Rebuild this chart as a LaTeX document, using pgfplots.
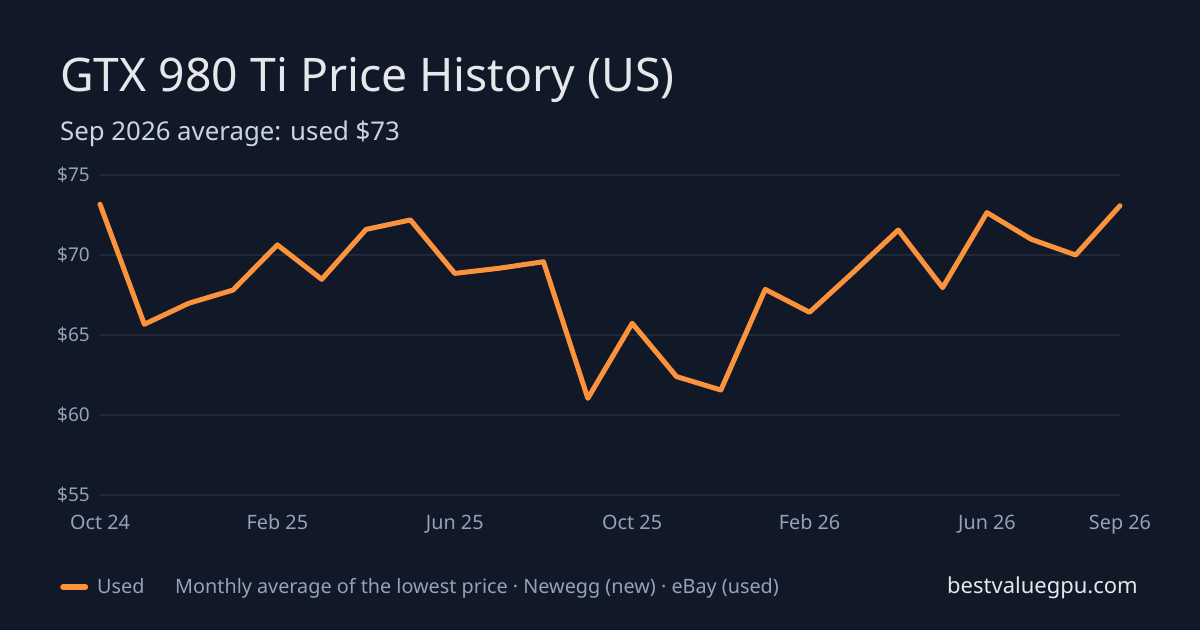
\documentclass[border=0pt]{standalone}
\usepackage{fontspec}
\setmainfont{Noto Sans}
\usepackage{pgfplots}
\pgfplotsset{compat=1.18}
\definecolor{bg}{HTML}{111827}
\definecolor{gridc}{HTML}{1F2937}
\definecolor{orangec}{HTML}{FB923C}
\definecolor{titlec}{HTML}{E5E7EB}
\definecolor{subc}{HTML}{CBD5E1}
\definecolor{tickc}{HTML}{94A3B8}
\begin{document}
\begin{tikzpicture}[x=1bp,y=1bp]
\fill[bg] (0,0) rectangle (1200,630);
\node[anchor=base west, inner sep=0pt, text=titlec, font=\fontsize{46.3bp}{54bp}\selectfont] at (60,538) {GTX 980 Ti Price History (US)};
\node[anchor=base west, inner sep=0pt, text=subc, font=\fontsize{25.8bp}{30bp}\selectfont] at (60,489) {Sep 2026 average: used \$73};
\begin{axis}[
  at={(100bp,135bp)}, anchor=south west,
  scale only axis, width=1020bp, height=320bp,
  xmin=0, xmax=23, ymin=55, ymax=75,
  axis line style={draw=none},
  major tick length=0pt,
  xtick={0,4,8,12,16,20,23},
  xticklabels={Oct 24,Feb 25,Jun 25,Oct 25,Feb 26,Jun 26,Sep 26},
  ytick={55,60,65,70,75},
  yticklabels={\$55,\$60,\$65,\$70,\$75},
  ymajorgrids, grid style={gridc, line width=1.5bp},
  xticklabel style={anchor=base, inner sep=0pt, yshift=-35bp, text=tickc, font=\fontsize{19.8bp}{24bp}\selectfont},
  yticklabel style={anchor=east, inner sep=0pt, xshift=-10bp, text=tickc, font=\fontsize{19bp}{24bp}\selectfont},
  legend style={at={(-0.0392,-0.2875)}, anchor=west, draw=none, fill=none, inner sep=0pt,
    text=tickc, font=\fontsize{19.8bp}{24bp}\selectfont, nodes={inner sep=0pt}},
  legend image code/.code={\draw[line width=6bp, line cap=round, orangec] (3bp,0bp) -- (25bp,0bp);},
  legend cell align=left,
  clip=false,
]
\addplot[orangec, line width=5bp, line join=round, line cap=round] coordinates {
(0,73.17) (1,65.67) (2,66.98) (3,67.81) (4,70.63) (5,68.48) (6,71.6) (7,72.19)
(8,68.85) (9,69.17) (10,69.58) (11,61.04) (12,65.73) (13,62.4) (14,61.56)
(15,67.85) (16,66.42) (17,68.96) (18,71.56) (19,67.96) (20,72.65) (21,70.98)
(22,70.0) (23,73.08)
};
\addlegendentry{\hspace{9bp}Used}
\end{axis}
\node[anchor=base west, inner sep=0pt, text=tickc, font=\fontsize{19.8bp}{24bp}\selectfont] at (175,36) {Monthly average of the lowest price · Newegg (new) · eBay (used)};
\node[anchor=base east, inner sep=0pt, text=titlec, font=\fontsize{22bp}{26bp}\selectfont] at (1138,36) {bestvaluegpu.com};
\end{tikzpicture}
\end{document}
